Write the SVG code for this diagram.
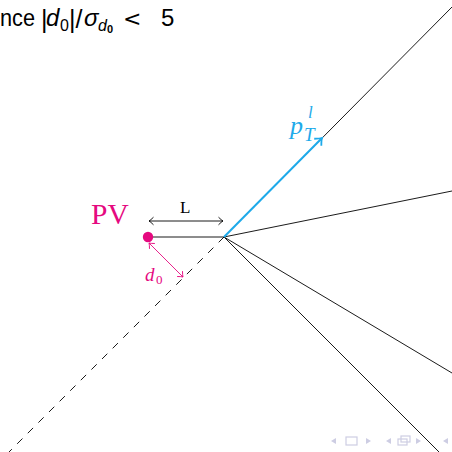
<svg xmlns="http://www.w3.org/2000/svg" width="452" height="452" viewBox="0 0 452 452">
<style>
.trk{stroke:#000;stroke-width:0.9;fill:none}
.dash{stroke:#000;stroke-width:0.9;fill:none;stroke-dasharray:7.5 7.5}
.pink{fill:#e5097f}
.serif{font-family:"Liberation Serif","DejaVu Serif",serif}
.sans{font-family:"Liberation Sans","DejaVu Sans",sans-serif}
.nav{fill:#cdcde3}
.navs{fill:none;stroke:#cdcde3;stroke-width:1.2}
</style>
<defs>
<marker id="tipK" markerUnits="userSpaceOnUse" markerWidth="12" markerHeight="12" viewBox="-6 -6 12 12" refX="0" refY="0" orient="auto-start-reverse">
<path d="M-4.5,-3.8 Q-1.5,-0.8 0,0 Q-1.5,0.8 -4.5,3.8" fill="none" stroke="#000" stroke-width="0.9"/>
</marker>
<marker id="tipP" markerUnits="userSpaceOnUse" markerWidth="12" markerHeight="12" viewBox="-6 -6 12 12" refX="0" refY="0" orient="auto-start-reverse">
<path d="M-4.5,-3.8 Q-1.5,-0.8 0,0 Q-1.5,0.8 -4.5,3.8" fill="none" stroke="#e5097f" stroke-width="0.9"/>
</marker>
<marker id="tipB" markerUnits="userSpaceOnUse" markerWidth="16" markerHeight="16" viewBox="-8 -8 16 16" refX="0" refY="0" orient="auto">
<path d="M-6,-5 Q-2,-1 0,0 Q-2,1 -6,5" fill="none" stroke="#1eaaea" stroke-width="1.8"/>
</marker>
</defs>

<g id="title">
<text class="sans" x="0" y="26" font-size="23" textLength="35" lengthAdjust="spacingAndGlyphs">nce</text>
<text class="sans" x="41" y="28" font-size="25">|</text>
<text class="sans" x="46" y="26" font-size="24" font-style="italic">d</text>
<text class="sans" x="60" y="31" font-size="16">0</text>
<text class="sans" x="69" y="28" font-size="25">|/</text>
<text class="sans" x="84" y="26" font-size="24" font-style="italic">σ</text>
<text class="sans" x="98" y="31" font-size="16" font-style="italic">d</text>
<text class="sans" x="107" y="33" font-size="11" font-weight="bold">0</text>
<text font-family="DejaVu Sans, sans-serif" x="123" y="26" font-size="22">&lt;</text>
<text class="sans" x="161" y="26" font-size="24">5</text>
</g>

<g id="connectors">
<line class="trk" x1="224" y1="237" x2="454" y2="5"/>
<line class="trk" x1="224" y1="237" x2="452" y2="191"/>
<line class="trk" x1="224" y1="237" x2="452" y2="373"/>
<line class="trk" x1="224" y1="237" x2="439" y2="452"/>
<line class="dash" x1="224" y1="237" x2="9" y2="452"/>
<line class="trk" x1="148" y1="237" x2="224" y2="237"/>
<line x1="224" y1="237" x2="322" y2="138" stroke="#1eaaea" stroke-width="2" marker-end="url(#tipB)"/>
<line x1="149" y1="221" x2="223" y2="221" stroke="#000" stroke-width="0.9" marker-start="url(#tipK)" marker-end="url(#tipK)"/>
<line x1="149" y1="243" x2="183" y2="277" stroke="#e5097f" stroke-width="0.9" marker-start="url(#tipP)" marker-end="url(#tipP)"/>
</g>

<g id="pv">
<circle cx="148" cy="237" r="5.2" class="pink"/>
<text class="serif pink" x="91" y="224" font-size="29.5">PV</text>
</g>

<g id="L">
<text class="serif" x="180" y="213" font-size="17">L</text>
</g>

<g id="d0">
<text class="serif pink" x="145" y="281" font-size="19" font-style="italic">d</text>
<text class="serif pink" x="156" y="284" font-size="13">0</text>
</g>

<g id="pt">
<text class="serif" fill="#1eaaea" x="290" y="134" font-size="26" font-style="italic">p</text>
<text class="serif" fill="#1eaaea" x="304" y="141" font-size="19" font-style="italic">T</text>
<text class="serif" fill="#1eaaea" x="308" y="118" font-size="17" font-style="italic">l</text>
</g>

<g id="nav">
<polygon class="nav" points="331,441 336,438 336,444"/>
<rect class="navs" x="346" y="437" width="11" height="8"/>
<polygon class="nav" points="371,441 366,438 366,444"/>
<polygon class="nav" points="386,441 391,438 391,444"/>
<rect class="navs" x="401" y="436" width="9" height="6"/>
<rect class="navs" x="398" y="439" width="9" height="6" fill="#fff"/>
<polygon class="nav" points="421,441 416,438 416,444"/>
<polygon class="nav" points="443,441 448,438 448,444"/>
</g>
</svg>
